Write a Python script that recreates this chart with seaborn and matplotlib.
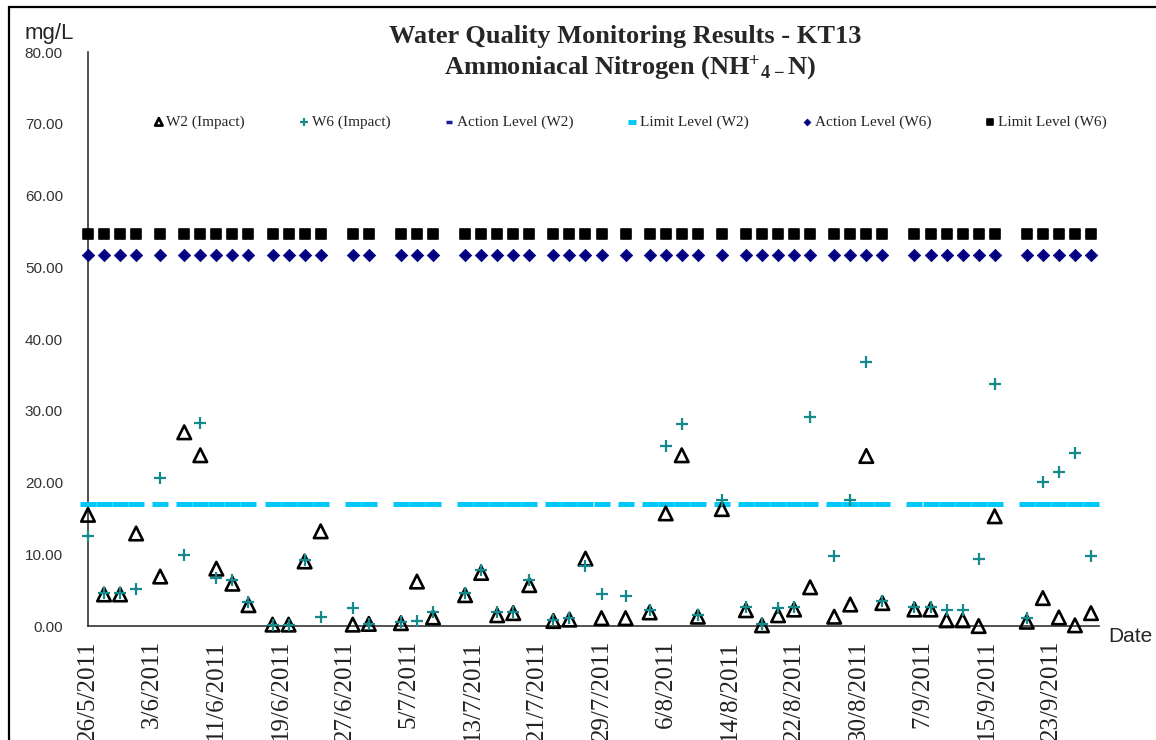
import pandas as pd
import matplotlib.pyplot as plt
import matplotlib.patches as mpatches
import seaborn as sns

sns.set_theme(style="white")
plt.rcParams["font.family"] = ["Liberation Serif", "DejaVu Serif"]

# Sampling dates (2011)
dates = ["26/5", "28/5", "30/5", "1/6", "4/6", "7/6", "9/6", "11/6", "13/6", "15/6",
         "18/6", "20/6", "22/6", "24/6", "28/6", "30/6", "4/7", "6/7", "8/7", "12/7",
         "14/7", "16/7", "18/7", "20/7", "23/7", "25/7", "27/7", "29/7", "1/8", "4/8",
         "6/8", "8/8", "10/8", "13/8", "16/8", "18/8", "20/8", "22/8", "24/8", "27/8",
         "29/8", "31/8", "2/9", "6/9", "8/9", "10/9", "12/9", "14/9", "16/9", "20/9",
         "22/9", "24/9", "26/9", "28/9"]

w2_impact = [15.5, 4.4, 4.4, 12.9, 6.9, 27.0, 23.8, 8.0, 5.9, 2.9,
             0.2, 0.2, 9.0, 13.2, 0.2, 0.3, 0.4, 6.2, 1.2, 4.3,
             7.4, 1.5, 1.8, 5.7, 0.7, 0.9, 9.4, 1.1, 1.1, 1.9,
             15.7, 23.8, 1.3, 16.3, 2.2, 0.1, 1.5, 2.3, 5.4, 1.3,
             3.0, 23.7, 3.2, 2.3, 2.3, 0.8, 0.8, 0.0, 15.3, 0.6,
             3.9, 1.2, 0.1, 1.8]

w6_impact = [12.6, 4.6, 4.6, 5.2, 20.6, 9.9, 28.3, 6.7, 6.4, 3.4,
             0.1, 0.1, 9.2, 1.3, 2.5, 0.3, 0.5, 0.7, 2.0, 4.6,
             7.8, 1.9, 2.0, 6.4, 0.9, 1.1, 8.3, 4.4, 4.2, 2.2,
             25.1, 28.1, 1.5, 17.6, 2.7, 0.3, 2.5, 2.7, 29.2, 9.7,
             17.6, 36.8, 3.5, 2.6, 2.7, 2.2, 2.2, 9.4, 33.7, 1.1,
             20.1, 21.5, 24.1, 9.7]

action_w2 = [17.0] * len(dates)
limit_w2 = [17.0] * len(dates)
action_w6 = [51.7] * len(dates)
limit_w6 = [54.6] * len(dates)

y_ticks = [0, 10, 20, 30, 40, 50, 60, 70, 80]

df = pd.DataFrame({
    "date": pd.to_datetime([d + "/2011" for d in dates], format="%d/%m/%Y"),
    "W2": w2_impact, "W6": w6_impact,
    "AW2": action_w2, "LW2": limit_w2, "AW6": action_w6, "LW6": limit_w6,
})

fig = plt.figure(figsize=(11.56, 7.4), dpi=100)
ax = fig.add_axes([0.0761, 0.154, 0.8746, 0.7757])

sns.scatterplot(data=df, x="date", y="AW2", marker="_", s=60, color="#1a1aa0",
                linewidth=2.5, label="Action Level (W2)", ax=ax, zorder=2)
sns.scatterplot(data=df, x="date", y="LW2", marker="_", s=120, color="#00c8f8",
                linewidth=3.6, label="Limit Level (W2)", ax=ax, zorder=3)
sns.scatterplot(data=df, x="date", y="AW6", marker="D", s=40, color="#000080",
                edgecolor="#000080", label="Action Level (W6)", ax=ax, zorder=3)
sns.scatterplot(data=df, x="date", y="LW6", marker="s", s=50, color="black",
                edgecolor="black", linewidth=1.2, label="Limit Level (W6)", ax=ax, zorder=3)
sns.scatterplot(data=df, x="date", y="W2", marker="^", s=95, facecolor="none",
                edgecolor="black", linewidth=1.9, label="W2 (Impact)", ax=ax, zorder=4)
sns.scatterplot(data=df, x="date", y="W6", marker="+", s=85, color="#148a8a",
                linewidth=1.6, label="W6 (Impact)", ax=ax, zorder=5)
for coll in ax.collections:
    coll.set_clip_on(False)

ax.set_ylim(0, 80)
ax.set_xlim(pd.Timestamp("2011-05-26"), pd.Timestamp("2011-09-29"))
ax.set_yticks(y_ticks)
ax.set_yticklabels([f"{v:.2f}" for v in y_ticks], family="Liberation Sans",
                   fontsize=11, color="#333333")
xt = pd.date_range("2011-05-26", "2011-09-29", freq="8D")
ax.set_xticks(xt)
ax.set_xticklabels([f"{d.day}/{d.month}/{d.year}" for d in xt], rotation=90,
                   fontsize=18, family="Liberation Serif", color="#222222")
ax.tick_params(axis="both", direction="in", length=5, width=1, color="#333333")
ax.tick_params(axis="x", pad=10)
ax.tick_params(axis="y", pad=18)
for side in ["top", "right"]:
    ax.spines[side].set_visible(False)
for side in ["left", "bottom"]:
    ax.spines[side].set_color("#333333")
    ax.spines[side].set_linewidth(1.2)
ax.set_xlabel("")
ax.set_ylabel("")

handles, labels = ax.get_legend_handles_labels()
order = ["W2 (Impact)", "W6 (Impact)", "Action Level (W2)", "Limit Level (W2)",
         "Action Level (W6)", "Limit Level (W6)"]
hmap = dict(zip(labels, handles))
ax.legend([hmap[k] for k in order], order, loc="center", ncol=6,
          bbox_to_anchor=(0.545, 0.835), bbox_transform=fig.transFigure,
          frameon=False, fontsize=11, markerscale=0.55, handletextpad=0.15,
          columnspacing=3.5, handlelength=0.7)

fig.text(0.541, 0.950, "Water Quality Monitoring Results - KT13", ha="center",
         va="center", fontsize=19, fontweight="bold")
fig.text(0.545, 0.908, r"Ammoniacal Nitrogen (NH$\mathregular{^{+}}$$\mathregular{_{4-}}$N)",
         ha="center", va="center", fontsize=19, fontweight="bold")
fig.text(0.043, 0.941, "mg/L", ha="center", va="bottom", fontsize=16,
         family=["Liberation Sans Narrow", "Liberation Sans"])
fig.text(0.959, 0.140, "Date", ha="left", va="center", fontsize=15,
         family=["Liberation Sans Narrow", "Liberation Sans"])

fig.patches.append(mpatches.Rectangle((0.008, -0.05), 1.05, 1.04, fill=False,
                                      lw=1.6, edgecolor="black",
                                      transform=fig.transFigure, figure=fig))

plt.savefig("out.png", dpi=100)
plt.close()
